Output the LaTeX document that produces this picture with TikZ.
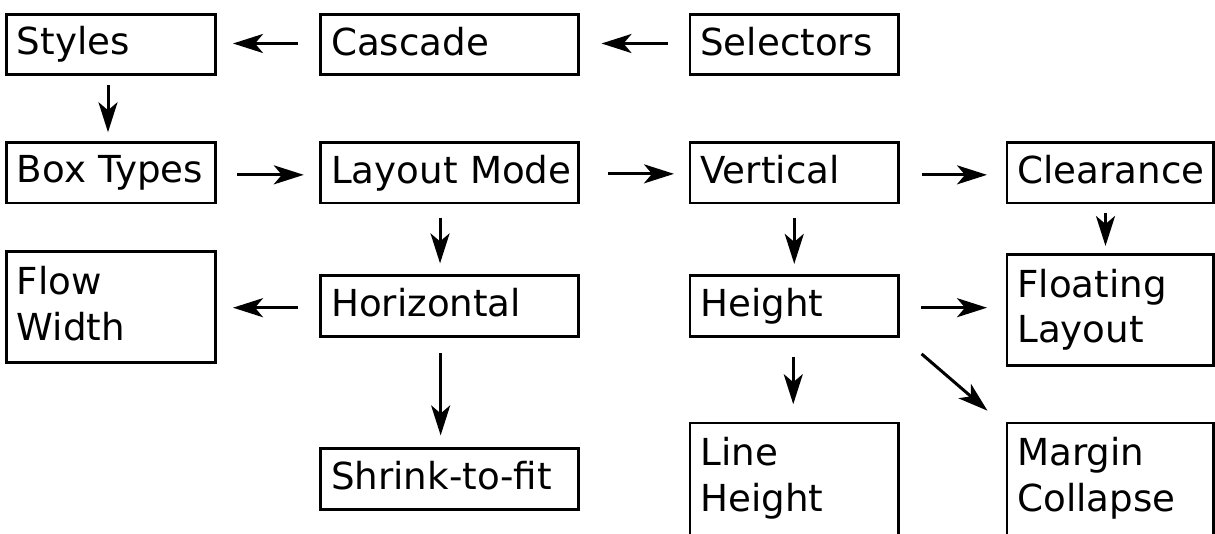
\documentclass[tikz,border=0pt]{standalone}
\usepackage{fontspec}
\setmainfont{DejaVu Sans}
\usetikzlibrary{arrows.meta}
\newcommand{\bxl}[1]{\mbox{\rule[-7pt]{0pt}{33pt}#1}}
\newcommand{\bxdeep}{\rule[-15.1pt]{0pt}{0pt}}
\begin{document}
\begin{tikzpicture}[x=1pt,y=-1pt,
  box/.style={draw, line width=2.7pt, rectangle, align=left, inner xsep=10.5pt, inner ysep=0pt,
    font=\fontsize{37.2}{45.4}\selectfont},
  cA/.style={box, text width=188.3pt, minimum width=209.3pt},
  cB/.style={box, text width=237pt, minimum width=258pt},
  cC/.style={box, text width=187.8pt, minimum width=208.8pt},
  cD/.style={box, text width=185.3pt, minimum width=206.3pt},
  one/.style={minimum height=60.5pt},
  two/.style={minimum height=111.3pt},
  tall/.style={minimum height=118pt},
  arr/.style={line width=3pt, -{Stealth[length=30pt,width=19pt,inset=8pt]}}]
\useasboundingbox (0,0) rectangle (1215,533);
\clip (0,0) rectangle (1215,533);
% row 1
\node[cA,one] (styles) at (111,44.5) {\bxl{Styles}};
\node[cB,one] (cascade) at (449.65,44.5) {\bxl{Cascade}};
\node[cC,one] (selectors) at (794.25,44.5) {\bxl{Selectors}};
% row 2
\node[cA,one] (boxtypes) at (111,172.85) {\bxl{Box Types}};
\node[cB,one] (layout) at (449.65,172.85) {\bxl{Layout Mode}};
\node[cC,one] (vertical) at (794.25,172.85) {\bxl{Vertical}};
\node[cD,one] (clearance) at (1110,172.85) {\bxl{Clearance}};
% row 3
\node[cA,two] (flow) at (111,307) {\bxl{Flow}\\\bxl{Width}};
\node[cB,one] (horizontal) at (449.65,306) {\bxl{Horizontal}};
\node[cC,one] (height) at (794.25,306) {\bxl{Height}};
\node[cD,two] (floating) at (1110,310) {\bxl{Floating}\\\bxl{Layout}};
% row 4
\node[cB,one] (shrink) at (449.65,479) {\bxl{Shrink-to-fit}};
\node[cC,tall] (lineh) at (794.25,482.05) {\bxl{Line}\\\bxl{Height}\bxdeep};
\node[cD,tall] (margin) at (1110,482.05) {\bxl{Margin}\\\bxl{Collapse}\bxdeep};
% connectors
\draw[arr] ([xshift=-21pt,yshift=1pt]cascade.west) -- ([xshift=16pt,yshift=1pt]styles.east);
\draw[arr] ([xshift=-21pt,yshift=1pt]selectors.west) -- ([xshift=21.5pt,yshift=1pt]cascade.east);
\draw[arr] ([xshift=-3pt,yshift=-9pt]styles.south) -- ([xshift=-3pt,yshift=9pt]boxtypes.north);
\draw[arr] ([xshift=20pt,yshift=-2pt]boxtypes.east) -- ([xshift=-15.5pt,yshift=-2pt]layout.west);
\draw[arr] ([xshift=28pt,yshift=-1pt]layout.east) -- ([xshift=-14.5pt,yshift=-1pt]vertical.west);
\draw[arr] ([xshift=22pt,yshift=-2pt]vertical.east) -- ([xshift=-18.5pt,yshift=-2pt]clearance.west);
\draw[arr] ([xshift=-9.6pt,yshift=-14pt]layout.south) -- ([xshift=-9.6pt,yshift=11pt]horizontal.north);
\draw[arr] ([xshift=-21pt,yshift=-1.7pt]horizontal.west) -- ([xshift=16pt,yshift=-1.7pt]flow.east |- horizontal.west);
\draw[arr] ([xshift=-9pt,yshift=-15.5pt]horizontal.south) -- ([xshift=-9pt,yshift=12pt]shrink.north);
\draw[arr] ([yshift=-14pt]vertical.south) -- ([yshift=10.5pt]height.north);
\draw[arr] ([xshift=21pt,yshift=-1.7pt]height.east) -- ([xshift=-18.5pt,yshift=-1.7pt]floating.west |- height.east);
\draw[arr] ([xshift=-1pt,yshift=-19pt]height.south) -- ([xshift=-1pt,yshift=17.5pt]lineh.north);
\draw[arr] ([xshift=-4.5pt,yshift=-9pt]clearance.south) -- ([xshift=-4.5pt,yshift=7pt]floating.north);
\draw[arr] ([xshift=21.6pt,yshift=-16.3pt]height.south east) -- ([xshift=-18pt,yshift=11pt]margin.north west);
\end{tikzpicture}
\end{document}
